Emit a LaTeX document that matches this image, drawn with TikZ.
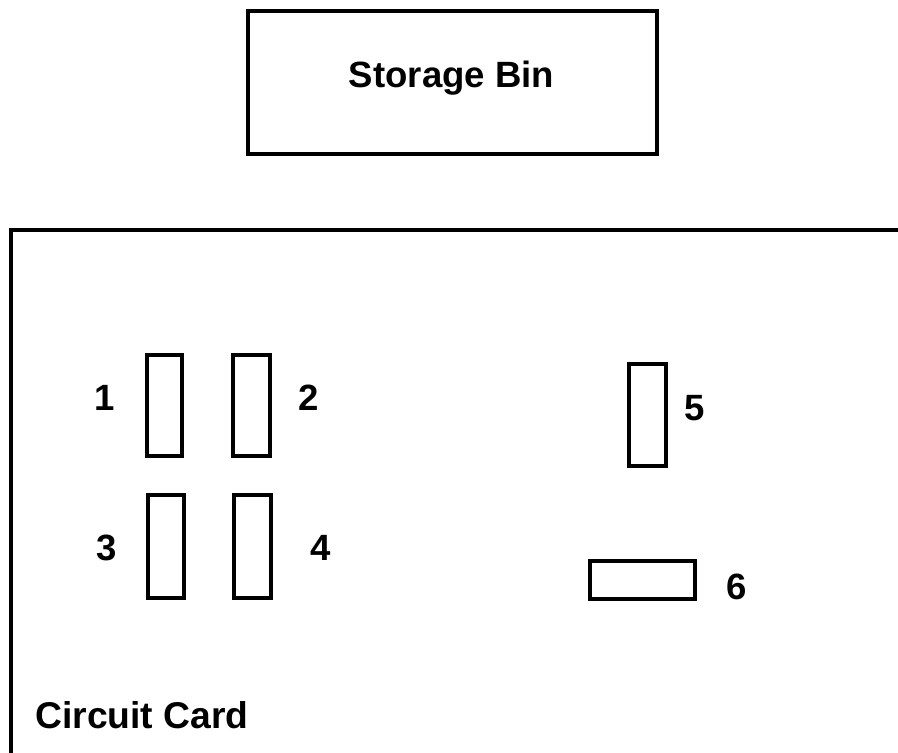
\documentclass[tikz,border=0pt]{standalone}
\usepackage{fontspec}
\setmainfont{Liberation Sans}
\usepackage{tikz}
\tikzset{
	box/.style={draw,line width=2.8pt,inner sep=0pt},
	lbl/.style={inner sep=0pt,font=\fontsize{26}{29}\selectfont\bfseries}
}

\begin{document}
\begin{tikzpicture}[x=0.025cm,y=-0.025cm]
	\useasboundingbox (0,0) rectangle (898,753);

	\node[box,minimum width=10.2cm,minimum height=3.58cm](bin) at (452.5,82.5){};
	\node[lbl,anchor=base](binlbl) at (451.5,88){Storage Bin};

	\coordinate(cardTR) at (898,230);
	\coordinate(cardTL) at (11,230);
	\coordinate(cardBL) at (11,753);
	\draw[line width=3pt] (cardTR)--(cardTL)--(cardBL);

	\node[box,minimum width=0.875cm,minimum height=2.525cm](s1) at (164.5,405.5){};
	\node[box,minimum width=0.925cm,minimum height=2.525cm](s2) at (251.5,405.5){};
	\node[box,minimum width=0.9cm,minimum height=2.575cm](s3) at (166,546.5){};
	\node[box,minimum width=0.925cm,minimum height=2.575cm](s4) at (252.5,546.5){};
	\node[box,minimum width=0.925cm,minimum height=2.55cm](s5) at (647.5,415){};
	\node[box,minimum width=2.625cm,minimum height=0.95cm](s6) at (642.5,580){};

	\node[lbl](n1) at (105,398){1};
	\node[lbl](n2) at (309,398){2};
	\node[lbl](n3) at (107,548){3};
	\node[lbl](n4) at (321,548){4};
	\node[lbl](n5) at (695,408){5};
	\node[lbl](n6) at (737,587){6};

	\node[lbl,anchor=base west,font=\fontsize{26.5}{29}\selectfont\bfseries](cardlbl) at (35,728){Circuit Card};
\end{tikzpicture}
\end{document}
